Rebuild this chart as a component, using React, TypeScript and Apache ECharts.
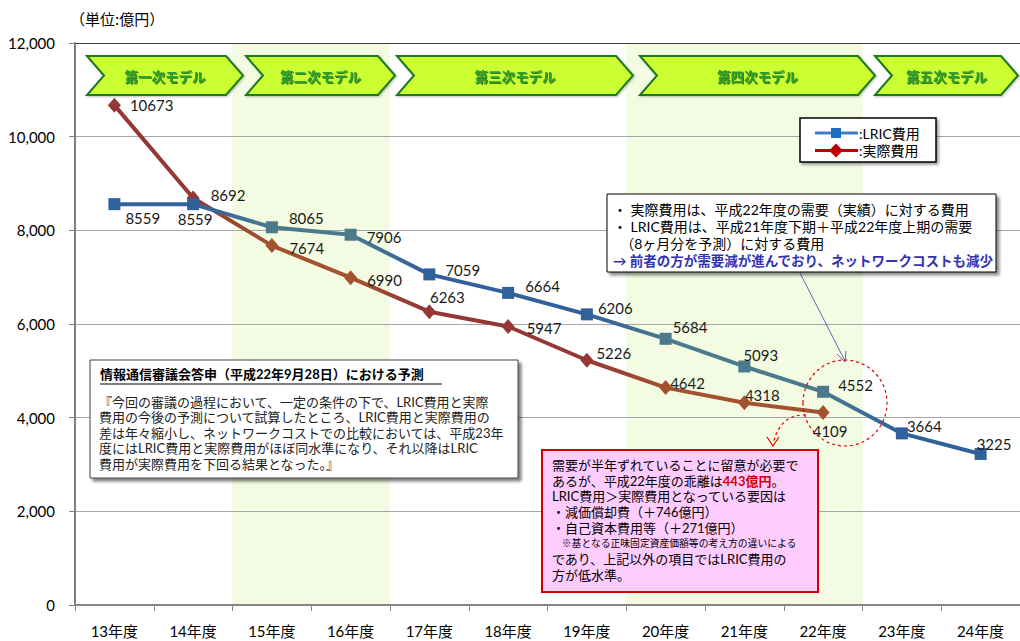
import React, { useEffect, useRef } from "react";
import * as echarts from "echarts";

// ---------- data ----------
const categories = ["13年度", "14年度", "15年度", "16年度", "17年度", "18年度", "19年度", "20年度", "21年度", "22年度", "23年度", "24年度"];
const lricValues = [8559, 8559, 8065, 7906, 7059, 6664, 6206, 5684, 5093, 4552, 3664, 3225];
const actualValues = [10673, 8692, 7674, 6990, 6263, 5947, 5226, 4642, 4318, 4109];
const seriesNames = [":LRIC費用", ":実際費用"];
const modelNames = ["第一次モデル", "第二次モデル", "第三次モデル", "第四次モデル", "第五次モデル"];
// highlighted model periods (category index ranges)
const highlightBands = [[2, 3], [7, 9]];
const yMin = 0;
const yMax = 12000;
const yInterval = 2000;

const noteLines = [
  "・ 実際費用は、平成22年度の需要（実績）に対する費用",
  "・ LRIC費用は、平成21年度下期＋平成22年度上期の需要",
  "  （8ヶ月分を予測）に対する費用",
];
const noteConclusion = "→ 前者の方が需要減が進んでおり、ネットワークコストも減少";
const forecastTitle = "情報通信審議会答申（平成22年9月28日）における予測";
const forecastLines = [
  "『今回の審議の過程において、一定の条件の下で、LRIC費用と実際",
  "費用の今後の予測について試算したところ、LRIC費用と実際費用の",
  "差は年々縮小し、ネットワークコストでの比較においては、平成23年",
  "度にはLRIC費用と実際費用がほぼ同水準になり、それ以降はLRIC",
  "費用が実際費用を下回る結果となった。』",
];
const gapText =
  "需要が半年ずれていることに留意が必要で\n" +
  "あるが、平成22年度の乖離は{r|443億円}。\n" +
  "LRIC費用＞実際費用となっている要因は\n" +
  "・減価償却費（＋746億円）\n" +
  "・自己資本費用等（＋271億円）\n" +
  "{s|　※基となる正味固定資産価額等の考え方の違いによる}\n" +
  "であり、上記以外の項目ではLRIC費用の\n" +
  "方が低水準。";

// ---------- styles ----------
const BLUE = "#31619B";
const TEAL = "#4A7A8C";
const RED = "#953735";
const BROWN = "#A2522E";
const lricColors = [BLUE, BLUE, TEAL, TEAL, BLUE, BLUE, BLUE, TEAL, TEAL, TEAL, BLUE, BLUE];
const actualColors = [RED, RED, BROWN, BROWN, RED, RED, RED, BROWN, BROWN, BROWN];
const lricLabels: [string, number[]][] = [
  ["right", [0, 14]], ["bottom", [2, -4]], ["right", [6, -9]], ["right", [5, 2]],
  ["right", [5, -4]], ["right", [6, -7]], ["right", [0, -6]], ["right", [-4, -12]],
  ["right", [-12, -11]], ["right", [4, -7]], ["right", [-6, -7]], ["right", [-15, -10]],
];
const actualLabels: [string, number[]][] = [
  ["right", [4, 0]], ["right", [6, -3]], ["right", [6, 2]], ["right", [5, 2]],
  ["top", [18, 5]], ["right", [7, 2]], ["right", [-2, -7]], ["right", [-7, -5]],
  ["right", [-11, -8]], ["bottom", [7, -2]],
];
const chevronX = [[87, 243], [246, 395], [397, 633], [640, 875], [875, 1018]];

const JP = "'Noto Sans CJK JP', 'Noto Sans', sans-serif";
const BOX = "Lato, 'Noto Sans CJK JP', sans-serif";
const NUM = "Lato, 'Noto Sans CJK JP', sans-serif";

function gradient(colors: string[]) {
  const n = colors.length;
  return new echarts.graphic.LinearGradient(0, 0, 1, 0, colors.map((c, i) => ({ offset: i / (n - 1), color: c })));
}

function txt(x: number, y: number, text: string, extra: any = {}) {
  return {
    type: "text",
    x,
    y,
    z: 20,
    style: {
      text,
      fill: "#000",
      font: `13px ${JP}`,
      verticalAlign: "middle",
      align: "left",
      ...extra,
    },
  };
}

function buildGraphics() {
  const g: any[] = [];
  // unit label
  g.push(txt(70, 18, "（単位:億円）", { font: `15px ${JP}` }));

  // chevrons
  chevronX.forEach(([x0, x1], i) => {
    const top = 56, bot = 95, mid = 75.5, d = 17;
    g.push({
      type: "polygon",
      z: 15,
      shape: { points: [[x0, top], [x1 - d, top], [x1, mid], [x1 - d, bot], [x0, bot], [x0 + d, mid]] },
      style: { fill: "#CCFF33", stroke: "#1E7A1E", lineWidth: 2, lineJoin: "miter", shadowColor: "rgba(0,0,0,0.25)", shadowBlur: 2, shadowOffsetX: 1, shadowOffsetY: 1 },
    });
    g.push({
      type: "text",
      z: 16,
      x: (x0 + x1) / 2,
      y: mid,
      style: {
        text: modelNames[i],
        font: `bold 13.5px ${JP}`,
        fill: "#2E9E2E",
        align: "center",
        verticalAlign: "middle",
        textShadowColor: "rgba(0,70,0,0.7)",
        textShadowBlur: 1,
        textShadowOffsetX: 1,
        textShadowOffsetY: 1,
      },
    });
  });

  // legend box
  g.push({
    type: "rect", z: 18,
    shape: { x: 800, y: 118, width: 136, height: 44 },
    style: { fill: "#fff", stroke: "#000", lineWidth: 1.5, shadowColor: "rgba(0,0,0,0.4)", shadowBlur: 3, shadowOffsetX: 2, shadowOffsetY: 2 },
  });
  g.push({ type: "line", z: 19, shape: { x1: 815, y1: 133, x2: 858, y2: 133 }, style: { stroke: "#3C7DC4", lineWidth: 3 } });
  g.push({ type: "rect", z: 19, shape: { x: 831, y: 128, width: 10, height: 10 }, style: { fill: "#1F6FC0" } });
  g.push(txt(859, 133, seriesNames[0], { font: `14px ${BOX}` }));
  g.push({ type: "line", z: 19, shape: { x1: 815, y1: 150.5, x2: 858, y2: 150.5 }, style: { stroke: "#C00000", lineWidth: 3 } });
  g.push({ type: "polygon", z: 19, shape: { points: [[836, 143.5], [843, 150.5], [836, 157.5], [829, 150.5]] }, style: { fill: "#C00000" } });
  g.push(txt(859, 150.5, seriesNames[1], { font: `14px ${BOX}` }));

  // top-right note box
  g.push({
    type: "rect", z: 18,
    shape: { x: 607, y: 194, width: 389, height: 78 },
    style: { fill: "#fff", stroke: "#000", lineWidth: 1, shadowColor: "rgba(0,0,0,0.45)", shadowBlur: 3, shadowOffsetX: 3, shadowOffsetY: 3 },
  });
  g.push({
    type: "text", z: 20, x: 613, y: 210 - 8.6,
    style: {
      text: noteLines.join("\n") + "\n{b|" + noteConclusion + "}",
      font: `14px ${BOX}`, fill: "#000", lineHeight: 17, verticalAlign: "top", align: "left",
      rich: { b: { font: `bold 13.5px ${BOX}`, fill: "#3333B0", lineHeight: 17 } },
    },
  });

  // blue arrow
  g.push({ type: "line", z: 17, shape: { x1: 800, y1: 273, x2: 845, y2: 361 }, style: { stroke: "#3344AA", lineWidth: 0.8 } });
  g.push({ type: "polyline", z: 17, shape: { points: [[837, 354], [845, 362], [846, 351]] }, style: { stroke: "#3344AA", lineWidth: 0.8, fill: "none" } });

  // red dashed circle and curved arrow
  g.push({ type: "ellipse", z: 17, shape: { cx: 845, cy: 403, rx: 42, ry: 43 }, style: { fill: "none", stroke: "#E00000", lineWidth: 1.2, lineDash: [3, 3] } });
  g.push({ type: "bezierCurve", z: 17, shape: { x1: 806, y1: 415, x2: 773, y2: 444, cpx1: 780, cpy1: 414 }, style: { fill: "none", stroke: "#E00000", lineWidth: 1.2, lineDash: [3, 3] } });
  g.push({ type: "polyline", z: 17, shape: { points: [[767, 437], [773, 446], [779, 437]] }, style: { stroke: "#E00000", lineWidth: 1.2, fill: "none" } });

  // left box
  g.push({
    type: "rect", z: 18,
    shape: { x: 90, y: 360, width: 428, height: 118 },
    style: { fill: "#fff", stroke: "#404040", lineWidth: 1, shadowColor: "rgba(0,0,0,0.5)", shadowBlur: 3, shadowOffsetX: 3, shadowOffsetY: 3 },
  });
  g.push(txt(100, 374, forecastTitle, { font: `bold 13px ${BOX}` }));
  g.push({ type: "line", z: 20, shape: { x1: 100, y1: 384, x2: 442, y2: 384 }, style: { stroke: "#000", lineWidth: 1 } });
  g.push({
    type: "text", z: 20, x: 99, y: 401.5 - 7.8,
    style: {
      text: forecastLines.join("\n"),
      font: `13px ${BOX}`, fill: "#222", lineHeight: 15.6, verticalAlign: "top", align: "left",
    },
  });

  // pink box
  g.push({
    type: "rect", z: 18,
    shape: { x: 542, y: 450, width: 276, height: 142 },
    style: { fill: "#FFCCFF", stroke: "#D00000", lineWidth: 2 },
  });
  g.push({
    type: "text", z: 20, x: 552, y: 465 - 7.85,
    style: {
      text: gapText,
      font: `13px ${BOX}`, fill: "#000", lineHeight: 15.7, verticalAlign: "top", align: "left",
      rich: {
        r: { fill: "#D00000", font: `bold 13px ${BOX}`, lineHeight: 15.7 },
        s: { font: `9.8px ${BOX}`, fill: "#000", lineHeight: 15.7 },
      },
    },
  });
  return g;
}

export default function App() {
  const ref = useRef<HTMLDivElement>(null);
  useEffect(() => {
    if (!ref.current) return;
    const chart = echarts.init(ref.current, undefined, { renderer: "svg" });
    const labelStyle = { show: true, formatter: "{c}", fontSize: 15, fontFamily: NUM, color: "#1A1A1A" };
    const nSplit = (yMax - yMin) / yInterval + 1;
    const splitColors = Array.from({ length: nSplit }, (_, i) => (i === nSplit - 1 ? "#404040" : "#A6A6A6"));
    chart.setOption({
      animation: false,
      backgroundColor: "#fff",
      grid: { left: 75, top: 43, width: 949, height: 562, containLabel: false },
      xAxis: {
        type: "category",
        data: categories,
        boundaryGap: true,
        axisLine: { lineStyle: { color: "#868686", width: 2 } },
        axisTick: { show: true, length: 6, lineStyle: { color: "#868686" } },
        axisLabel: { fontSize: 15, fontFamily: NUM, color: "#000", margin: 18 },
        splitLine: { show: false },
      },
      yAxis: {
        type: "value",
        min: yMin,
        max: yMax,
        interval: yInterval,
        axisLine: { show: true, lineStyle: { color: "#7F7F7F", width: 2 } },
        axisTick: { show: true, length: 6, lineStyle: { color: "#7F7F7F" } },
        axisLabel: {
          fontSize: 15, fontFamily: NUM, color: "#000", margin: 20,
          formatter: (v: number) => v.toLocaleString("en-US"),
        },
        splitLine: { show: true, lineStyle: { color: splitColors, width: 1 } },
      },
      series: [
        {
          type: "custom",
          z: -1,
          silent: true,
          data: highlightBands,
          renderItem: (params: any, api: any) => {
            const s = api.value(0);
            const e = api.value(1);
            const bw = api.size([1, 0])[0];
            const p0 = api.coord([s, yMax]);
            const p1 = api.coord([e, yMin]);
            return {
              type: "rect",
              shape: { x: p0[0] - bw / 2, y: p0[1], width: p1[0] - p0[0] + bw, height: p1[1] - p0[1] },
              style: { fill: "#F3FCE2" },
            };
          },
        },
        {
          name: seriesNames[1],
          type: "line",
          z: 3,
          data: actualValues.map((v, i) => ({
            value: v,
            itemStyle: { color: actualColors[i] },
            label: { position: actualLabels[i][0], offset: actualLabels[i][1] },
          })),
          symbol: "diamond",
          symbolSize: [13, 15],
          lineStyle: { width: 4, color: gradient(actualColors) },
          itemStyle: { color: RED },
          label: labelStyle,
        },
        {
          name: seriesNames[0],
          type: "line",
          z: 4,
          data: lricValues.map((v, i) => ({
            value: v,
            itemStyle: { color: lricColors[i] },
            label: { position: lricLabels[i][0], offset: lricLabels[i][1] },
          })),
          symbol: "rect",
          symbolSize: 12,
          lineStyle: { width: 4, color: gradient(lricColors) },
          itemStyle: { color: BLUE },
          label: labelStyle,
        },
      ],
      graphic: buildGraphics(),
    });
    return () => chart.dispose();
  }, []);
  return (
    <div
      ref={ref}
      style={{ position: "absolute", left: 0, top: 0, width: 1020, height: 641, background: "#fff" }}
    />
  );
}
